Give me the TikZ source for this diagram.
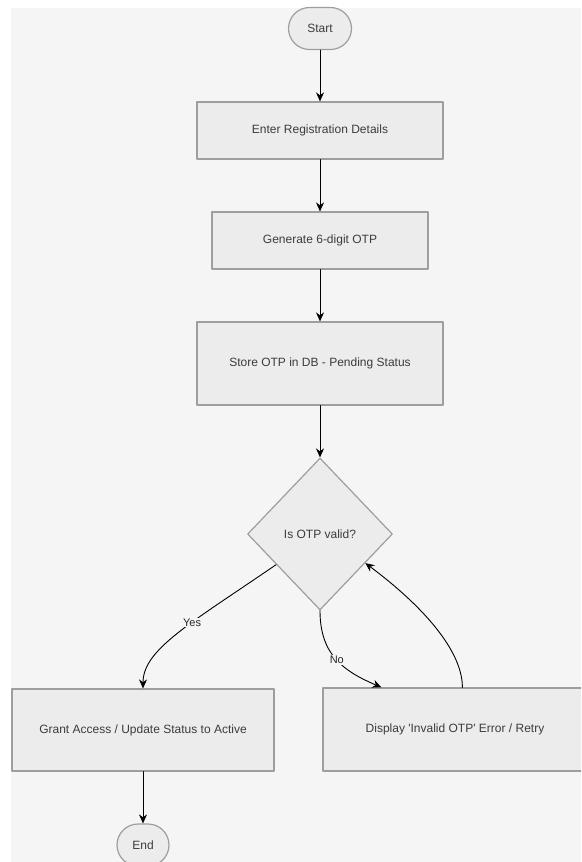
\documentclass[tikz,border=0pt]{standalone}
\usepackage{fontspec}
\setmainfont{Liberation Sans}
\usetikzlibrary{shapes.geometric,arrows.meta,calc}
\begin{document}
\begin{tikzpicture}[x=1pt, y=-1pt, line cap=round, line join=round,
  flowbox/.style={rectangle, draw=boxedge, fill=boxfill, line width=1.2pt,
    text=boxtext, font=\fontsize{12}{14}\selectfont, inner sep=0pt},
  terminal/.style={flowbox, rounded corners=21pt},
  decision/.style={flowbox, diamond, minimum width=145pt, minimum height=152pt},
  flow/.style={-{Stealth[length=9pt,width=8pt]}, line width=0.9pt, draw=black},
  edgelabel/.style={fill=bgfill, inner sep=1pt, text=black!85,
    font=\fontsize{11}{13}\selectfont}]
  \definecolor{bgfill}{HTML}{F5F5F5}
  \definecolor{boxfill}{HTML}{ECECEC}
  \definecolor{boxedge}{HTML}{9E9E9E}
  \definecolor{boxtext}{HTML}{3C3C3C}
  \useasboundingbox (0,0) rectangle (581,862);
  \clip (0,0) rectangle (581,862);
  \fill[bgfill] (11,8) rectangle (581,862);
  \node[terminal, minimum width=63pt, minimum height=42pt] (start) at (320,28.5) {Start};
  \node[flowbox, minimum width=246pt, minimum height=57pt] (enter) at (320,130.5) {Enter Registration Details};
  \node[flowbox, minimum width=216pt, minimum height=57pt] (otp) at (320,240.5) {Generate 6-digit OTP};
  \node[flowbox, minimum width=246pt, minimum height=83pt] (store) at (320,363.5) {Store OTP in DB - Pending Status};
  \node[decision] (valid) at (320,534) {Is OTP valid?};
  \node[flowbox, minimum width=262pt, minimum height=82pt] (grant) at (143,730) {Grant Access / Update Status to Active};
  \node[flowbox, minimum width=264pt, minimum height=83pt] (retry) at (455,729.5) {Display \textquotesingle Invalid OTP\textquotesingle{} Error / Retry};
  \node[terminal, minimum width=52pt, minimum height=42pt] (end) at (143,845) {End};
  \draw[flow] (start) -- (enter);
  \draw[flow] (enter) -- (otp);
  \draw[flow] (otp) -- (store);
  \draw[flow] (store) -- (valid);
  % decision branches
  \draw[flow] ($(valid.west)!0.4!(valid.south)$) .. controls +(-86,59) and +(0,-39) .. (grant.north)
    node[edgelabel, pos=0.4] {Yes};
  \draw[flow] (valid.south) .. controls +(0,45) and +(-37,-16) .. ($(retry.north west)+(59,0)$)
    node[edgelabel, pos=0.5] {No};
  \draw[flow] ($(retry.north west)+(140,0)$) .. controls +(0,-38) and +(55,41) .. ($(valid.east)!0.38!(valid.south)$);
  \draw[flow] (grant) -- (end);
\end{tikzpicture}
\end{document}
